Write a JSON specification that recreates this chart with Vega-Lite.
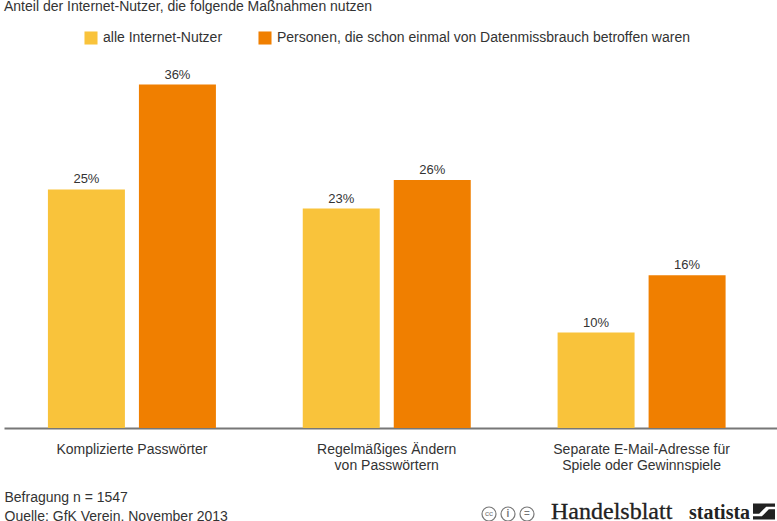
{
  "$schema": "https://vega.github.io/schema/vega-lite/v6.json",
  "width": 773,
  "height": 388,
  "padding": {"left": 4, "top": 40, "right": 0, "bottom": 93},
  "autosize": {"type": "none"},
  "background": "white",
  "config": {
    "view": {"stroke": null},
    "font": "Liberation Sans",
    "text": {"font": "Liberation Sans"}
  },
  "title": {
    "text": "Anteil der Internet-Nutzer, die folgende Maßnahmen nutzen",
    "anchor": "start",
    "frame": "group",
    "font": "Liberation Sans",
    "fontSize": 14,
    "fontWeight": "normal",
    "color": "#333333",
    "baseline": "middle",
    "offset": 10
  },
  "data": {
    "values": [
      {"massnahme": "Komplizierte Passwörter", "gruppe": "alle Internet-Nutzer", "anteil": 0.25},
      {"massnahme": "Komplizierte Passwörter", "gruppe": "Personen, die schon einmal von Datenmissbrauch betroffen waren", "anteil": 0.36},
      {"massnahme": "Regelmäßiges Ändern von Passwörtern", "gruppe": "alle Internet-Nutzer", "anteil": 0.23},
      {"massnahme": "Regelmäßiges Ändern von Passwörtern", "gruppe": "Personen, die schon einmal von Datenmissbrauch betroffen waren", "anteil": 0.26},
      {"massnahme": "Separate E-Mail-Adresse für Spiele oder Gewinnspiele", "gruppe": "alle Internet-Nutzer", "anteil": 0.10},
      {"massnahme": "Separate E-Mail-Adresse für Spiele oder Gewinnspiele", "gruppe": "Personen, die schon einmal von Datenmissbrauch betroffen waren", "anteil": 0.16}
    ]
  },
  "layer": [
    {
      "mark": {"type": "bar"},
      "encoding": {
        "x": {
          "field": "massnahme",
          "type": "nominal",
          "sort": null,
          "scale": {"paddingInner": 0, "paddingOuter": 0.01667, "align": 0.059},
          "axis": {
            "labelAngle": 0,
            "labelFontSize": 14,
            "labelColor": "#333333",
            "labelPadding": 14,
            "labelLineHeight": 16.5,
            "labelLimit": 0,
            "labelBaseline": "top",
            "labelExpr": "datum.label == 'Regelmäßiges Ändern von Passwörtern' ? ['Regelmäßiges Ändern', 'von Passwörtern'] : datum.label == 'Separate E-Mail-Adresse für Spiele oder Gewinnspiele' ? ['Separate E-Mail-Adresse für', 'Spiele oder Gewinnspiele'] : datum.label",
            "ticks": false,
            "domainColor": "#777777",
            "domainWidth": 2,
            "title": ["Befragung n = 1547", "Quelle: GfK Verein, November 2013"],
            "titleFontSize": 14,
            "titleFontWeight": "normal",
            "titleColor": "#333333",
            "titleAlign": "left",
            "titleAnchor": "start",
            "titleX": 0,
            "titleY": 69,
            "titleBaseline": "middle",
            "titleLineHeight": 19
          }
        },
        "xOffset": {
          "field": "gruppe",
          "type": "nominal",
          "sort": null,
          "scale": {"paddingInner": 0.154, "paddingOuter": 0.477}
        },
        "y": {
          "field": "anteil",
          "type": "quantitative",
          "scale": {"domain": [0, 0.4067], "nice": false},
          "axis": null
        },
        "color": {
          "field": "gruppe",
          "type": "nominal",
          "sort": null,
          "scale": {"range": ["#F9C33B", "#F07F00"]},
          "legend": {
            "title": null,
            "orient": "none",
            "direction": "horizontal",
            "columns": 2,
            "legendX": 80,
            "legendY": -9,
            "symbolType": "square",
            "symbolSize": 170,
            "symbolStrokeWidth": 0,
            "symbolOpacity": 1,
            "labelFontSize": 14,
            "labelColor": "#333333",
            "labelLimit": 0,
            "labelOffset": 5,
            "columnPadding": 35
          }
        }
      }
    },
    {
      "mark": {"type": "text", "baseline": "bottom", "dy": -3, "fontSize": 13, "color": "#333333"},
      "encoding": {
        "x": {"field": "massnahme", "type": "nominal", "sort": null, "bandPosition": 0.5},
        "xOffset": {"field": "gruppe", "type": "nominal", "sort": null},
        "y": {"field": "anteil", "type": "quantitative"},
        "text": {"field": "anteil", "type": "quantitative", "format": ".0%"}
      }
    },
    {
      "data": {"values": [{"marke": "Handelsblatt"}]},
      "mark": {"type": "text", "font": "Liberation Serif", "fontSize": 24, "stroke": "#222222", "strokeWidth": 0.3, "color": "#222222", "align": "left", "baseline": "alphabetic"},
      "encoding": {"text": {"field": "marke"}, "x": {"value": 547}, "y": {"value": 479}}
    },
    {
      "data": {"values": [{"marke": "statista"}]},
      "mark": {"type": "text", "font": "Liberation Serif", "fontSize": 20, "fontWeight": "bold", "color": "#222222", "align": "left", "baseline": "alphabetic"},
      "encoding": {"text": {"field": "marke"}, "x": {"value": 685}, "y": {"value": 479}}
    },
    {
      "data": {"values": [{"marke": "statista-logo"}]},
      "mark": {
        "type": "point",
        "filled": true,
        "size": 1936,
        "opacity": 1,
        "color": "#222222",
        "strokeWidth": 0,
        "shape": "M-0.5,-0.36L0.5,-0.36L0.5,-0.22L0.1,-0.22L-0.22,0.1L-0.5,0.1ZM0.5,0.36L-0.5,0.36L-0.5,0.22L-0.1,0.22L0.22,-0.1L0.5,-0.1Z"
      },
      "encoding": {"x": {"value": 760}, "y": {"value": 471.5}}
    },
    {
      "data": {"values": [{"symbol": "cc"}]},
      "layer": [
        {"mark": {"type": "point", "shape": "circle", "size": 196, "filled": false, "color": "#777777", "strokeWidth": 1.2, "opacity": 1}, "encoding": {"x": {"value": 485}, "y": {"value": 474}}},
        {"mark": {"type": "text", "fontSize": 8, "color": "#777777"}, "encoding": {"text": {"field": "symbol"}, "x": {"value": 485}, "y": {"value": 474}}}
      ]
    },
    {
      "data": {"values": [{"symbol": "i"}]},
      "layer": [
        {"mark": {"type": "point", "shape": "circle", "size": 196, "filled": false, "color": "#777777", "strokeWidth": 1.2, "opacity": 1}, "encoding": {"x": {"value": 504}, "y": {"value": 474}}},
        {"mark": {"type": "text", "fontSize": 10, "fontWeight": "bold", "color": "#777777"}, "encoding": {"text": {"field": "symbol"}, "x": {"value": 504}, "y": {"value": 474}}}
      ]
    },
    {
      "data": {"values": [{"symbol": "="}]},
      "layer": [
        {"mark": {"type": "point", "shape": "circle", "size": 196, "filled": false, "color": "#777777", "strokeWidth": 1.2, "opacity": 1}, "encoding": {"x": {"value": 523}, "y": {"value": 474}}},
        {"mark": {"type": "text", "fontSize": 10, "color": "#777777"}, "encoding": {"text": {"field": "symbol"}, "x": {"value": 523}, "y": {"value": 474}}}
      ]
    }
  ]
}
